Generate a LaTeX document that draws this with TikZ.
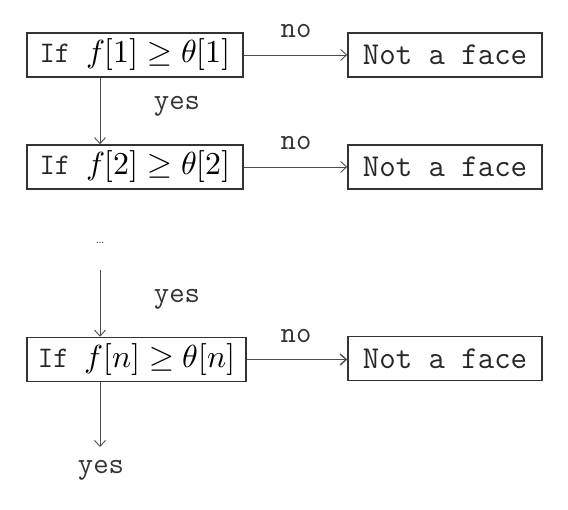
\documentclass[tikz,border=0pt]{standalone}
\usepackage{fontspec}
\usepackage{unicode-math}
\usetikzlibrary{arrows.meta}
\begin{document}
\begin{tikzpicture}[x=1bp,y=-1bp,
  box/.style={draw=black!80,line width=1.6bp,inner sep=0pt,minimum height=44bp,font=\fontsize{32}{34}\selectfont},
  face/.style={box,minimum width=194bp,font=\fontsize{32}{34}\selectfont\ttfamily,text=black!85},
  conn/.style={draw=black!70,line width=0.9bp,-{Straight Barb[length=6bp,width=11bp]}},
  lab/.style={font=\fontsize{30}{32}\selectfont\ttfamily,text=black!80,inner sep=0pt}]
\useasboundingbox (0,0) rectangle (568,510);
\newcommand{\ifword}{{\fontsize{30}{30}\selectfont\ttfamily\color{black!85}If}\hspace{16bp}}
\node[box,minimum width=216bp] (c1) at (135,55) {\ifword$f[1]\geq\theta[1]$};
\node[box,minimum width=216bp] (c2) at (135,167) {\ifword$f[2]\geq\theta[2]$};
\node[box,minimum width=219bp] (c3) at (136.5,359.5) {\ifword$f[n]\geq\theta[n]$};
\node[face] (r1) at (445,55) {Not a face};
\node[face] (r2) at (445,167) {Not a face};
\node[face] (r3) at (445,358.5) {Not a face};
\node[lab] (dots) at (100,243) {\fontsize{14}{16}\selectfont\rmfamily\dots};
\coordinate (d1) at (100,270);
\coordinate (e1) at (100,447);
\node[lab] (y1) at (177,106) {yes};
\node[lab] (y2) at (177,299) {yes};
\node[lab] (y3) at (101,470) {yes};
\node[lab] (n1) at (296,31) {no};
\node[lab] (n2) at (296,143) {no};
\node[lab] (n3) at (296,336) {no};
\draw[conn] (c1.south -| d1) -- (c2.north -| d1);
\draw[conn] (d1) -- (c3.north -| d1);
\draw[conn] (c3.south -| e1) -- (e1);
\draw[conn] (c1.east) -- (r1.west);
\draw[conn] (c2.east) -- (r2.west);
\draw[conn,line width=1.4bp] (c3.east) -- (r3.west |- c3.east);
\end{tikzpicture}
\end{document}
